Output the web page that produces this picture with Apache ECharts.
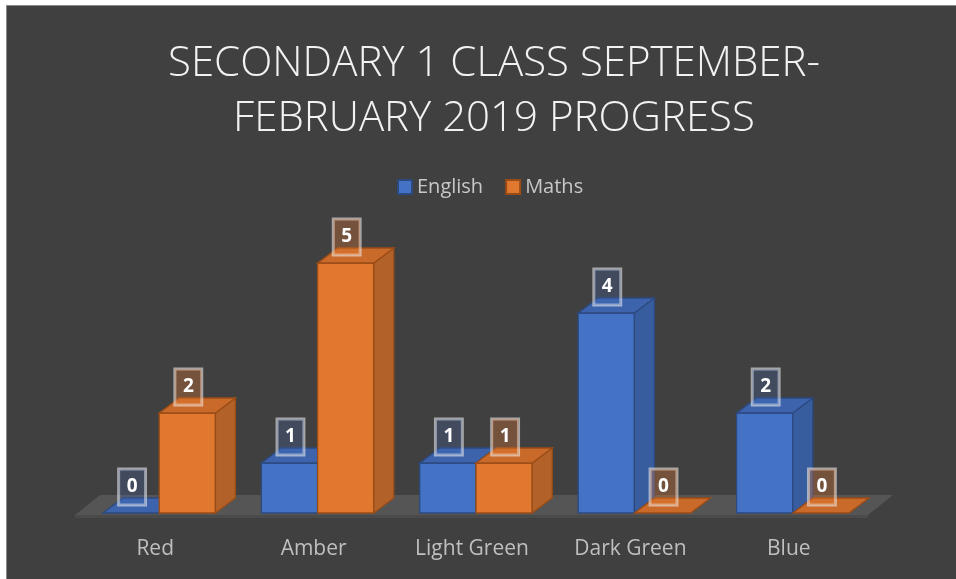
<!DOCTYPE html>
<html>
<head>
<meta charset="utf-8">
<script src="https://cdn.jsdelivr.net/npm/echarts@6/dist/echarts.min.js"></script>
<style>
  body { margin: 0; background: #fff; }
  #main { position: absolute; left: 6px; top: 5px; width: 950px; height: 574px;
          border-left: 1px solid #8a8a8a; border-top: 1px solid #8a8a8a; background: #404040; }
</style>
</head>
<body>
<div id="main"></div>
<script>
const categories = ["Red", "Amber", "Light Green", "Dark Green", "Blue"];
const english = [0, 1, 1, 4, 2];
const maths = [2, 5, 1, 0, 0];

const colors = {
  English: { front: "#4472c4", side: "#385d9f", top: "#3c63ab", line: "#2c4a80", label: "rgba(68,114,196,0.22)" },
  Maths: { front: "#e0782f", side: "#b26128", top: "#c9692a", line: "#9a4c17", label: "rgba(237,125,49,0.3)" },
};

const DX = 20, DY = -15;

function makeBar(name, side) {
  const c = colors[name];
  return function (params, api) {
    const cat = api.value(0);
    const val = api.value(1);
    const base = api.coord([cat, 0]);
    const top = api.coord([cat, val]);
    const bw = api.size([1, 0])[0] * 0.355;
    const x0 = side === 0 ? base[0] - bw : base[0];
    const x1 = x0 + bw;
    const yb = base[1], yt = top[1];
    const ln = { stroke: c.line, lineWidth: 1.3 };
    const children = [];
    if (val > 0) {
      children.push({ type: "rect", shape: { x: x0, y: yt, width: bw, height: yb - yt },
        style: Object.assign({ fill: c.front }, ln) });
      children.push({ type: "polygon", shape: { points: [[x1, yt], [x1 + DX, yt + DY], [x1 + DX, yb + DY], [x1, yb]] },
        style: Object.assign({ fill: c.side }, ln) });
    }
    children.push({ type: "polygon", shape: { points: [[x0, yt], [x0 + DX, yt + DY], [x1 + DX, yt + DY], [x1, yt]] },
      style: Object.assign({ fill: c.top }, ln) });
    children.push({ type: "text", z2: 10,
      style: { text: String(val), x: (x0 + x1) / 2 + 1, y: yt - 8, align: "center", verticalAlign: "bottom",
        fill: "#ffffff", font: "bold 19px 'Open Sans'", lineHeight: 20, backgroundColor: c.label,
        borderColor: "rgba(235,235,235,0.6)", borderWidth: 1.5, padding: [8, 8, 8, 8] } });
    return { type: "group", children: children };
  };
}

function renderFloor(params, api) {
  const cs = params.coordSys;
  const yb = cs.y + cs.height + 2;
  const xl = cs.x - 5, xr = cs.x + cs.width - 4;
  return {
    type: "group",
    children: [
      { type: "polygon", shape: { points: [[xl, yb], [xl + 25, yb - 20], [xr + 25, yb - 20], [xr, yb]] },
        style: { fill: "#555555" } },
      { type: "rect", shape: { x: xl, y: yb, width: xr - xl, height: 3 }, style: { fill: "#4a4a4a" } },
    ],
  };
}

const chart = echarts.init(document.getElementById("main"));
chart.setOption({
  backgroundColor: "transparent",
  animation: false,
  title: {
    text: "SECONDARY 1 CLASS SEPTEMBER-\nFEBRUARY 2019 PROGRESS",
    left: 482, top: 26, textAlign: "center",
    textStyle: { color: "#f2f2f2", fontSize: 42, fontWeight: 300, fontFamily: "Open Sans", lineHeight: 55 },
  },
  legend: {
    data: ["English", "Maths"],
    top: 166, left: 385, itemWidth: 14, itemHeight: 14, itemGap: 22, icon: "rect",
    textStyle: { color: "#c8c8c8", fontSize: 20, fontFamily: "Open Sans" },
  },
  grid: { left: 73, top: 207, width: 792, height: 300 },
  xAxis: {
    type: "category", data: categories,
    axisLine: { show: false }, axisTick: { show: false }, splitLine: { show: false },
    axisLabel: { color: "#bfbfbf", fontSize: 21, fontFamily: "Open Sans", margin: 26, padding: [0, 8, 0, 0] },
  },
  yAxis: { type: "value", min: 0, max: 6, show: false },
  series: [
    { type: "custom", name: "floor", z: 1, renderItem: renderFloor, data: [[0, 0]], silent: true },
    { type: "custom", name: "English", z: 2, renderItem: makeBar("English", 0), encode: { x: 0, y: 1 },
      itemStyle: { color: colors.English.front, borderColor: colors.English.line, borderWidth: 1.5 },
      data: english.map((v, i) => [i, v]) },
    { type: "custom", name: "Maths", z: 2, renderItem: makeBar("Maths", 1), encode: { x: 0, y: 1 },
      itemStyle: { color: colors.Maths.front, borderColor: colors.Maths.line, borderWidth: 1.5 },
      data: maths.map((v, i) => [i, v]) },
  ],
});
</script>
</body>
</html>
